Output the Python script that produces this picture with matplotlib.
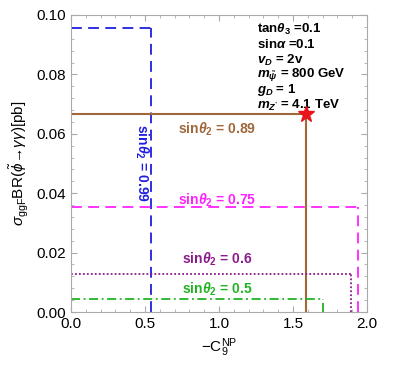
import matplotlib
matplotlib.use("Agg")
import matplotlib.pyplot as plt
from matplotlib.ticker import MultipleLocator

plt.rcParams['font.family'] = ['Liberation Sans', 'DejaVu Sans']
plt.rcParams['mathtext.fontset'] = 'custom'
plt.rcParams['mathtext.rm'] = 'Liberation Sans'
plt.rcParams['mathtext.it'] = 'Liberation Sans:italic'
plt.rcParams['mathtext.bf'] = 'Liberation Sans:bold'
plt.rcParams['mathtext.bfit'] = 'Liberation Sans:bold:italic'
plt.rcParams['mathtext.sf'] = 'Liberation Sans'

# data: (x endpoint, y level) for each sin(theta2)
labels = ["0.99", "0.89", "0.75", "0.6", "0.5"]
x_end = [0.54, 1.59, 1.94, 1.89, 1.70]
y_lvl = [0.0955, 0.0665, 0.0352, 0.0128, 0.0044]
colors = ["#1f1fe0", "#a0673a", "#ff22ff", "#8b1a8b", "#22b322"]
styles = [(0, (6, 3.5)), "-", (0, (6, 3.5)), (0, (1, 1.2)), (0, (5, 2, 1, 2))]
star_x, star_y = 1.59, 0.0665

fig = plt.figure(figsize=(3.99, 3.72), dpi=100)
ax = fig.add_axes([71/399, 1-312/372, 296/399, 297/372])

for xe, yl, c, ls in zip(x_end, y_lvl, colors, styles):
    lw = 1.5 if ls == "-" else 1.3
    ax.plot([0, xe], [yl, yl], color=c, ls=ls, lw=lw)
    ax.plot([xe, xe], [0, yl], color=c, ls=ls, lw=lw)

ax.plot([star_x], [star_y], marker="*", color="#e8141c", ms=12, ls="none", zorder=5)

fs = 10
def lab(v):
    return r"sin$\mathbfit{\theta}_\mathbf{2}$ = " + v

ax.text(0.48, 0.050, lab(labels[0]), color=colors[0], rotation=-90,
        ha="center", va="center", fontsize=fs, fontweight="bold")
pos = [None, (0.99, 0.0616), (0.99, 0.0377), (0.99, 0.0178), (0.99, 0.0077)]
for i in range(1, 5):
    ax.text(pos[i][0], pos[i][1], lab(labels[i]), color=colors[i], ha="center",
            va="center", fontsize=fs, fontweight="bold")

params = [r"tan$\mathbfit{\theta}_\mathbf{3}$ =0.1",
          r"sin$\mathbfit{\alpha}$ =0.1",
          r"$\mathbfit{v}_\mathbfit{D}$ = 2v",
          r"$\mathbfit{m}_{\tilde{\mathbfit{\psi}}}$ = 800 GeV",
          r"$\mathbfit{g}_\mathbfit{D}$ = 1",
          r"$\mathbfit{m}_{\mathbfit{Z'}}$ = 4.1 TeV"]
for i, p in enumerate(params):
    ax.text(1.26, 0.0950 - i*0.0051, p, ha="left", va="center", fontsize=9.5,
            fontweight="bold", color="black")

ax.set_xlim(0, 2.0)
ax.set_ylim(0, 0.10)
ax.xaxis.set_minor_locator(MultipleLocator(0.1))
ax.yaxis.set_minor_locator(MultipleLocator(0.004))
ax.set_xticks([0, 0.5, 1.0, 1.5, 2.0])
ax.set_xticklabels(["0.0", "0.5", "1.0", "1.5", "2.0"])
ax.set_yticks([0, 0.02, 0.04, 0.06, 0.08, 0.10])
ax.set_yticklabels(["0.00", "0.02", "0.04", "0.06", "0.08", "0.10"])
ax.tick_params(which="both", direction="in", top=True, right=True, color="#aaaaaa",
               labelsize=11)
ax.tick_params(which="major", length=4)
ax.tick_params(which="minor", length=2)
for s in ax.spines.values():
    s.set_color("#aaaaaa")

ax.set_xlabel(r"$-\mathrm{C}_9^{\mathrm{NP}}$", fontsize=11)
ax.set_ylabel(r"$\sigma_{\mathrm{ggF}}$BR($\tilde{\phi}\!\rightarrow\!\gamma\gamma$)[pb]", fontsize=11)

fig.savefig("out.png", dpi=100)
